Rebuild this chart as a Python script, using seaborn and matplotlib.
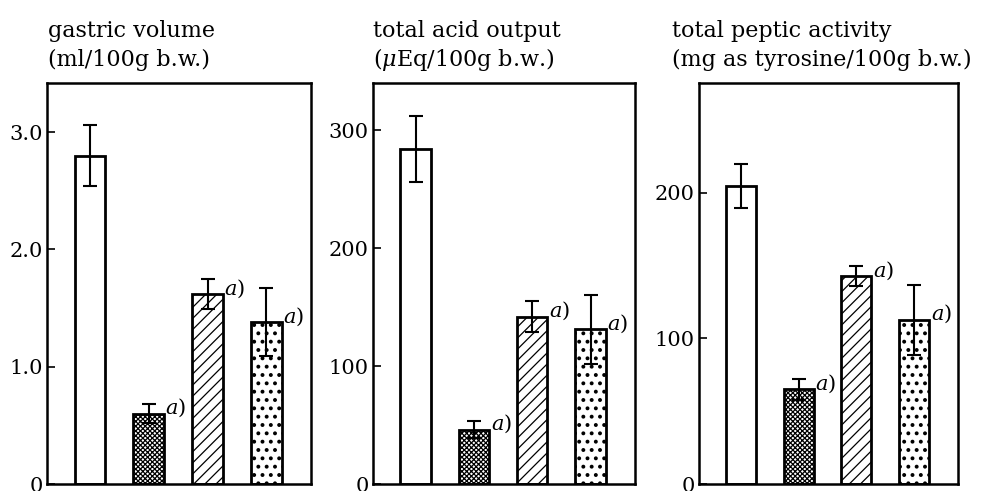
import pandas as pd
import seaborn as sns
import matplotlib.pyplot as plt

# groups (no x labels in the original figure)
groups = ["control", "group 2", "group 3", "group 4"]
hatches = ["", "xxxxxxx", "///", ".."]

# gastric volume (ml/100g b.w.)
volume = [2.80, 0.60, 1.62, 1.38]
volume_se = [0.26, 0.08, 0.13, 0.29]

# total acid output (uEq/100g b.w.)
acid = [284, 46, 142, 131]
acid_se = [28, 7, 13, 29]

# total peptic activity (mg as tyrosine/100g b.w.)
peptic = [205, 65, 143, 113]
peptic_se = [15, 7, 7, 24]

# which bars carry the "a)" mark
marked = [False, True, True, True]

sns.set_theme(style="white")
plt.rcParams["font.family"] = ["DejaVu Serif"]
plt.rcParams["mathtext.fontset"] = "dejavuserif"
plt.rcParams["text.color"] = "black"
plt.rcParams["ytick.color"] = "black"
plt.rcParams["hatch.linewidth"] = 0.9

fig = plt.figure(figsize=(9.9, 4.91), dpi=100)

panels = [
    (volume, volume_se, 3.42, [0, 1, 2, 3], ["0", "1.0", "2.0", "3.0"],
     ["gastric volume", "(ml/100g b.w.)"], 47, 48),
    (acid, acid_se, 340, [0, 100, 200, 300], ["0", "100", "200", "300"],
     ["total acid output", r"($\mu$Eq/100g b.w.)"], 373, 373),
    (peptic, peptic_se, 275.6, [0, 100, 200], ["0", "100", "200"],
     ["total peptic activity", "(mg as tyrosine/100g b.w.)"], 699, 672),
]
widths = [264, 262, 259]

for (vals, errs, ymax, ticks, ticklabels, title, left, title_x), w in zip(panels, widths):
    ax = fig.add_axes([left / 990, 7 / 491, w / 990, 401 / 491])
    df = pd.DataFrame({"group": groups, "value": vals})
    sns.barplot(data=df, x="group", y="value", color="white", edgecolor="black",
                linewidth=2, width=0.52, errorbar=None, ax=ax)
    for patch, h in zip(ax.patches, hatches):
        patch.set_hatch(h)
        patch.set_facecolor("white")
        if h == ".." and hasattr(patch, "set_hatch_linewidth"):
            patch.set_hatch_linewidth(1.6)
    ax.errorbar(range(len(groups)), vals, yerr=errs, fmt="none", ecolor="black",
                elinewidth=1.5, capsize=5, capthick=1.5)
    for i, (v, m) in enumerate(zip(vals, marked)):
        if m:
            ax.annotate(r"$a$)", (i + 0.26, v), xytext=(1, 4), textcoords="offset points",
                        ha="left", va="center", fontsize=15)
    ax.set_xlim(-0.73, 3.76)
    ax.set_ylim(0, ymax)
    ax.set_xticks([])
    ax.set_yticks(ticks)
    ax.set_yticklabels(ticklabels, fontsize=15)
    ax.tick_params(axis="y", direction="in", length=6, width=1.2, pad=3, left=True,
                   colors="black")
    ax.set_xlabel("")
    ax.set_ylabel("")
    for s in ax.spines.values():
        s.set_color("black")
        s.set_linewidth(1.8)
    fig.text(title_x / 990, 1 - 31 / 491, title[0], fontsize=16, va="center", ha="left")
    fig.text(title_x / 990, 1 - 60 / 491, title[1], fontsize=16, va="center", ha="left")

plt.savefig("out.png", dpi=100)
